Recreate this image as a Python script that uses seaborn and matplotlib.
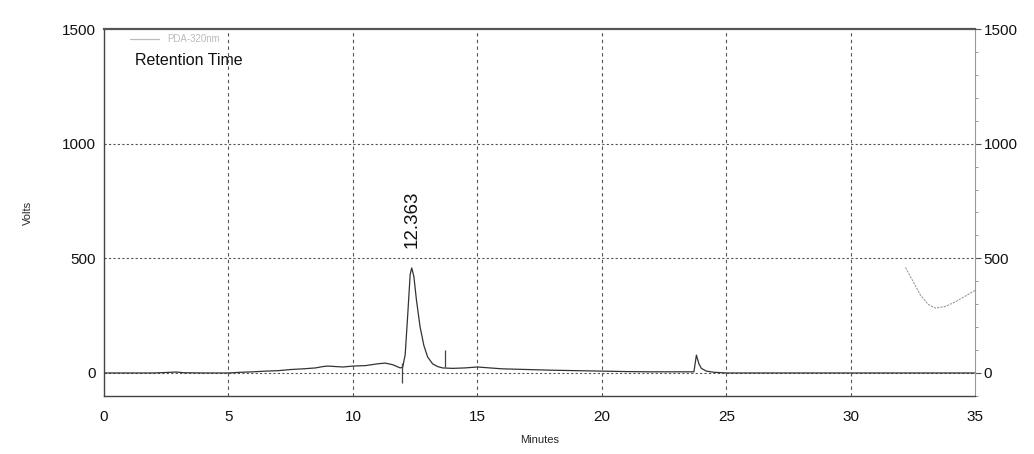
import matplotlib
matplotlib.use("Agg")
import matplotlib.pyplot as plt
import seaborn as sns
import pandas as pd
from matplotlib.ticker import MultipleLocator

# --- data ---
time_min = [0, 1, 2, 2.7, 2.9, 3.2, 4, 5, 5.5, 6, 6.5, 7, 7.5, 8, 8.5, 8.8, 9.0, 9.3,
            9.6, 10, 10.5, 11, 11.3, 11.6, 11.9, 12.0, 12.1, 12.2, 12.3, 12.363, 12.45,
            12.55, 12.7, 12.85, 13.0, 13.2, 13.4, 13.6, 14, 14.5, 15, 15.5, 16, 17, 18,
            19, 20, 21, 22, 23, 23.7, 23.8, 23.9, 24.0, 24.2, 24.5, 25, 30, 35]
signal = [0, 0, 0, 3, 4, 1, 0, 0, 3, 5, 8, 10, 15, 18, 22, 28, 30, 28,
          26, 30, 32, 40, 43, 36, 22, 25, 80, 250, 430, 458, 420,
          320, 200, 120, 70, 40, 28, 22, 20, 22, 26, 22, 18, 15, 12,
          10, 8, 6, 5, 5, 5, 78, 40, 20, 8, 3, 0, 0, 0]

gradient_time = [32.2, 32.5, 32.8, 33.1, 33.4, 33.8, 34.2, 34.6, 35]
gradient_val = [460, 400, 340, 300, 283, 290, 310, 335, 360]

event_time = [11.97, 13.7]
event_low = [-45, 26]
event_high = [45, 100]

peak_time = 12.363
peak_label = "12.363"

x_ticks = [0, 5, 10, 15, 20, 25, 30, 35]
y_ticks = [0, 500, 1000, 1500]

sns.set_style("white")
plt.rcParams['font.family'] = ['Liberation Sans', 'DejaVu Sans']

fig = plt.figure(figsize=(10.34, 4.54), dpi=100)
ax = fig.add_axes([0.1006, 0.128, 0.8425, 0.808])

df = pd.DataFrame({"Minutes": time_min, "Volts": signal})
sns.lineplot(data=df, x="Minutes", y="Volts", ax=ax, color="#333333", lw=0.9,
             label="PDA-320nm")
gdf = pd.DataFrame({"t": gradient_time, "v": gradient_val})
sns.lineplot(data=gdf, x="t", y="v", ax=ax, color="#9a9a9a", lw=0.8, ls=(0, (2, 1)))

ax.vlines(event_time, event_low, event_high, color="#444444", lw=0.9)

ax.set_xlim(0, 35)
ax.set_ylim(-100, 1500)
ax.set_xticks(x_ticks)
ax.set_yticks(y_ticks)
ax.xaxis.set_minor_locator(MultipleLocator(1))
ax.yaxis.set_minor_locator(MultipleLocator(100))

# grid
for xv in x_ticks[1:-1]:
    ax.axvline(xv, color="#555555", lw=0.8, ls=(0, (3, 3)), zorder=0.5)
for yv in y_ticks[:-1]:
    ax.axhline(yv, color="#555555", lw=0.8, ls=(0, (2, 2)), zorder=0.5)

for s in ["left", "bottom"]:
    ax.spines[s].set_color("#444444")
    ax.spines[s].set_linewidth(1.0)
ax.spines["top"].set_color("#555555")
ax.spines["top"].set_linewidth(1.6)
ax.spines["right"].set_color("#999999")
ax.spines["right"].set_linewidth(0.8)

ax.tick_params(axis="both", which="major", direction="out", length=4, width=0.8,
               color="#555555", labelsize=11, labelcolor="#111111")
ax.tick_params(axis="both", which="minor", direction="out", length=2.5, width=0.6,
               color="#888888")
ax.tick_params(axis="y", right=True, labelright=True, which="both")
ax.tick_params(axis="y", which="major", pad=2)
ax.tick_params(axis="x", which="major", pad=6)

ax.set_xlabel("Minutes", fontsize=8, labelpad=8)
ax.set_ylabel("Volts", fontsize=8)
ax.yaxis.set_label_coords(-0.082, 0.5)

leg = ax.legend(loc="upper left", bbox_to_anchor=(0.02, 1.01), frameon=False,
                fontsize=7, handlelength=3)
for t in leg.get_texts():
    t.set_color("#bbbbbb")
for h in leg.get_lines():
    h.set_color("#bbbbbb")

ax.text(0.035, 0.915, "Retention Time", transform=ax.transAxes, fontsize=11.5,
        color="#111111", va="center", ha="left")
ax.text(peak_time, 545, peak_label, rotation=90, fontsize=13.5, ha="center",
        va="bottom", color="#111111")

fig.savefig("out.png", dpi=100, facecolor="white")
